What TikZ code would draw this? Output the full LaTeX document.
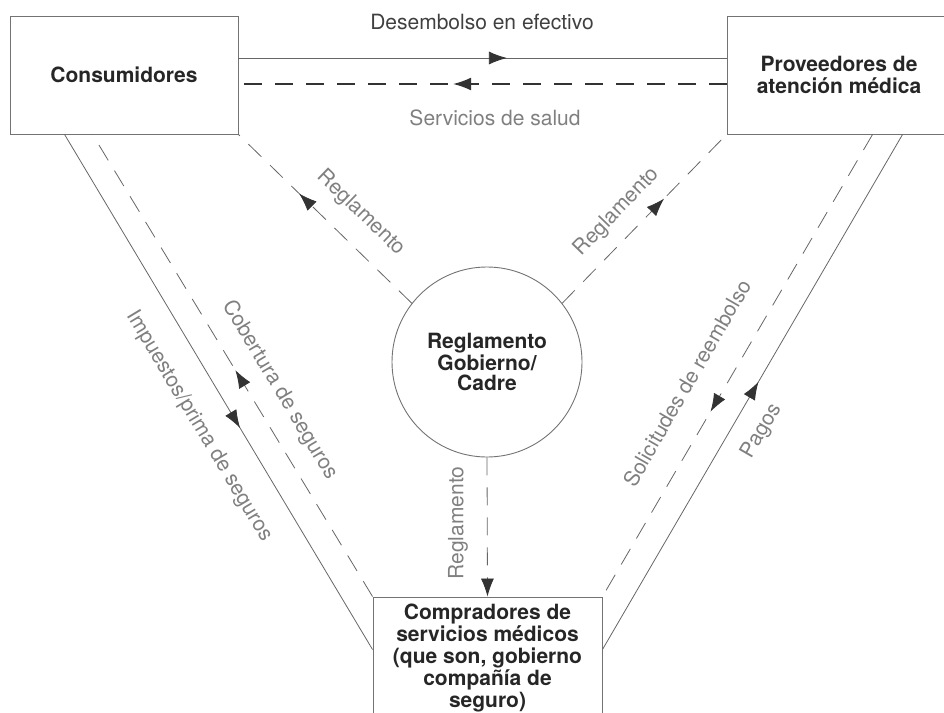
\documentclass[tikz,border=0pt]{standalone}
\usepackage{fontspec}
\setmainfont{TeX Gyre Heros}
\usetikzlibrary{positioning,arrows.meta,decorations.markings}

\begin{document}
\begin{tikzpicture}[
    x=1pt, y=-1pt,
    every node/.style={font=\fontsize{21}{22}\selectfont},
    box/.style={draw=black!55, line width=0.9pt, align=center, inner sep=0pt,
      font=\fontsize{21}{21.5}\selectfont\bfseries, text=black!85},
    lbl/.style={text=black!50},
    flow/.style={draw=black!60, line width=0.8pt},
    dflow/.style={flow, dash pattern=on 18pt off 12pt},
    tipshape/.style={-{Latex[length=18pt,width=13pt,color=black!80]}},
    midtip/.style={postaction={decorate}, decoration={markings,
      mark=at position #1 with {\arrow{Latex[length=18pt,width=13pt,color=black!80]}}}}
  ]
    \useasboundingbox (0,0) rectangle (944,712);
    \clip (0,0) rectangle (944,712);

    \node[box, minimum width=228pt, minimum height=118pt] (cons) at (124,75) {Consumidores};
    \node[box, minimum width=224pt, minimum height=118pt] (prov) at (839,75) {Proveedores de\\atención médica};
    \node[box, circle, minimum size=190pt, font=\fontsize{21}{20}\selectfont\bfseries] (circ) at (487,362) {Reglamento\\Gobierno/\\Cadre};
    \node[box, minimum width=229pt, minimum height=122pt, font=\fontsize{21}{22}\selectfont\bfseries] (comp) at (487.5,658) {Compradores de\\servicios médicos\\(que son, gobierno\\compañía de\\seguro)};

    % cash and services between consumers and providers
    \draw[flow, midtip=0.55] ([yshift=17pt]cons.east) -- ([yshift=17pt]prov.west);
    \draw[flow, draw=black!80, line width=1.2pt, dash pattern=on 18pt off 13pt, midtip=0.56]
      ([yshift=-9pt]prov.west) -- ([yshift=-9pt]cons.east);

    % regulation out of the circle
    \draw[dflow, midtip=0.65] (circ.142) -- (cons.south east);
    \draw[dflow, midtip=0.62] (circ.38) -- (prov.south west);
    \draw[dflow, tipshape] (circ.south) -- (comp.north);

    % consumers <-> purchasers
    \draw[flow, midtip=0.57] ([xshift=55pt]cons.south west) -- ([yshift=-53pt]comp.north west);
    \draw[dflow, midtip=0.49] (comp.north west) -- ([xshift=83pt]cons.south west);

    % providers <-> purchasers
    \draw[dflow, midtip=0.6] ([xshift=146pt]prov.south west) -- (comp.north east);
    \draw[flow, midtip=0.52] ([yshift=-53pt]comp.north east) -- ([xshift=176pt]prov.south west);

    \node[text=black!75] (desemb) at (482,22) {Desembolso en efectivo};
    \node[lbl] (salud) at (495,118) {Servicios de salud};
    \node[lbl, rotate=-44] (reglA) at (361,213) {Reglamento};
    \node[lbl, rotate=46] (reglB) at (617,212) {Reglamento};
    \node[lbl, rotate=90] (reglC) at (458,523) {Reglamento};
    \node[lbl, rotate=-59] (cobert) at (280,390) {Cobertura de seguros};
    \node[lbl, rotate=-59] (impuest) at (199,426) {Impuestos/prima de seguros};
    \node[lbl, rotate=60] (solic) at (687,383) {Solicitudes de reembolso};
    \node[lbl, rotate=60] (pagos) at (762,431) {Pagos};
\end{tikzpicture}
\end{document}
